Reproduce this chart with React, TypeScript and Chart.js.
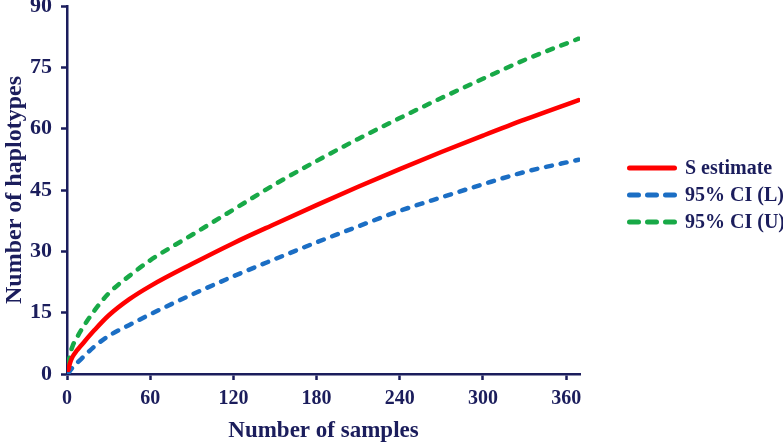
import { useEffect, useRef } from 'react';
import { Chart, registerables } from 'chart.js';

Chart.register(...registerables);

// Rarefaction curve: number of haplotypes against number of samples
const sampleSizes = [1, 2, 4, 7, 10, 20, 30, 45, 60, 90, 120, 150, 180, 210, 240, 270, 300, 330, 369];
const sEstimate = [1, 2.5, 4.2, 5.7, 6.9, 10.8, 14.3, 18.3, 21.5, 26.9, 32, 36.7, 41.3, 45.8, 50.1, 54.3, 58.3, 62.2, 67];
const ciLower = [0.2, 0.7, 1.6, 2.6, 3.6, 6.8, 9.3, 12, 14.6, 19.4, 23.9, 28.1, 32.2, 36.1, 39.9, 43.2, 46.4, 49.4, 52.4];
const ciUpper = [2.5, 4.5, 6.8, 8.8, 10.6, 15.6, 19.7, 24, 27.8, 34, 40.2, 46.4, 52.1, 57.5, 62.6, 67.5, 72.2, 76.8, 82];
const seriesLabels = ['S estimate', '95% CI (L)', '95% CI (U)'];

const xAxisTitle = 'Number of samples';
const yAxisTitle = 'Number of haplotypes';

const NAVY = '#1b1d5c';
const FONT = "'Liberation Serif', 'Times New Roman', serif";
const RED = '#ff0000';
const BLUE = '#1b6ec4';
const GREEN = '#18a947';

const toPoints = (ys: number[]) => sampleSizes.map((x, i) => ({ x, y: ys[i] }));

// Legend drawn to the right of the plot area, line samples followed by labels
const sideLegend = {
  id: 'sideLegend',
  afterDraw(chart: any) {
    const { ctx, chartArea } = chart;
    const x0 = chartArea.right + 47;
    const y0 = chartArea.top + 162;
    chart.data.datasets.forEach((ds: any, i: number) => {
      const y = y0 + i * 27;
      ctx.save();
      ctx.strokeStyle = ds.borderColor;
      ctx.lineWidth = 5;
      ctx.lineCap = 'round';
      ctx.setLineDash(ds.borderDash && ds.borderDash.length ? [9, 9] : []);
      ctx.beginPath();
      ctx.moveTo(x0 + 2.5, y);
      ctx.lineTo(x0 + 47.5, y);
      ctx.stroke();
      ctx.setLineDash([]);
      ctx.fillStyle = NAVY;
      ctx.font = `bold 20px ${FONT}`;
      ctx.textBaseline = 'middle';
      ctx.textAlign = 'left';
      ctx.fillText(ds.label, x0 + 58, y + 1);
      ctx.restore();
    });
  },
};

export default function App() {
  const canvasRef = useRef<HTMLCanvasElement | null>(null);

  useEffect(() => {
    if (!canvasRef.current) return;
    const axisGrid = {
      display: true,
      drawOnChartArea: false,
      drawTicks: true,
      tickLength: 6,
      tickColor: NAVY,
      tickWidth: 2.5,
    };
    const axisBorder = { display: true, color: NAVY, width: 2.5 };

    const chart = new Chart(canvasRef.current, {
      type: 'line',
      data: {
        datasets: [
          {
            label: seriesLabels[0],
            data: toPoints(sEstimate),
            borderColor: RED,
            backgroundColor: RED,
            borderWidth: 4.5,
            pointRadius: 0,
            cubicInterpolationMode: 'monotone',
            borderCapStyle: 'round',
          },
          {
            label: seriesLabels[1],
            data: toPoints(ciLower),
            borderColor: BLUE,
            backgroundColor: BLUE,
            borderWidth: 4.5,
            borderDash: [6, 9],
            borderCapStyle: 'round',
            pointRadius: 0,
            cubicInterpolationMode: 'monotone',
          },
          {
            label: seriesLabels[2],
            data: toPoints(ciUpper),
            borderColor: GREEN,
            backgroundColor: GREEN,
            borderWidth: 4.5,
            borderDash: [6, 9],
            borderCapStyle: 'round',
            pointRadius: 0,
            cubicInterpolationMode: 'monotone',
          },
        ],
      },
      options: {
        animation: false,
        responsive: true,
        maintainAspectRatio: false,
        layout: { padding: { top: 6, right: 203, left: 0, bottom: 0 } },
        plugins: {
          legend: { display: false },
          tooltip: { enabled: false },
        },
        scales: {
          x: {
            type: 'linear',
            min: 0,
            max: 370,
            grid: axisGrid,
            border: axisBorder,
            ticks: {
              stepSize: 60,
              includeBounds: false,
              color: NAVY,
              font: { family: FONT, size: 20, weight: 'bold' },
              padding: 7,
              maxRotation: 0,
            },
            title: {
              display: true,
              text: xAxisTitle,
              color: NAVY,
              font: { family: FONT, size: 23, weight: 'bold' },
              padding: { top: 0, bottom: 1 },
            },
            afterFit(scale: any) {
              scale.height = 72;
              scale.paddingLeft = 0;
              scale.paddingRight = 0;
            },
          },
          y: {
            type: 'linear',
            min: 0,
            max: 90,
            grid: axisGrid,
            border: axisBorder,
            ticks: {
              stepSize: 15,
              color: NAVY,
              font: { family: FONT, size: 22, weight: 'bold' },
              padding: 9,
            },
            title: {
              display: true,
              text: yAxisTitle,
              color: NAVY,
              font: { family: FONT, size: 24, weight: 'bold' },
              padding: { top: 0, bottom: 0 },
            },
            afterFit(scale: any) {
              scale.width = 67;
              scale.paddingTop = 0;
              scale.paddingBottom = 0;
            },
          },
        },
      },
      plugins: [sideLegend],
    });
    return () => chart.destroy();
  }, []);

  return (
    <div style={{ position: 'fixed', left: 0, top: 0, width: 783, height: 446, background: '#ffffff' }}>
      <canvas ref={canvasRef} />
    </div>
  );
}
